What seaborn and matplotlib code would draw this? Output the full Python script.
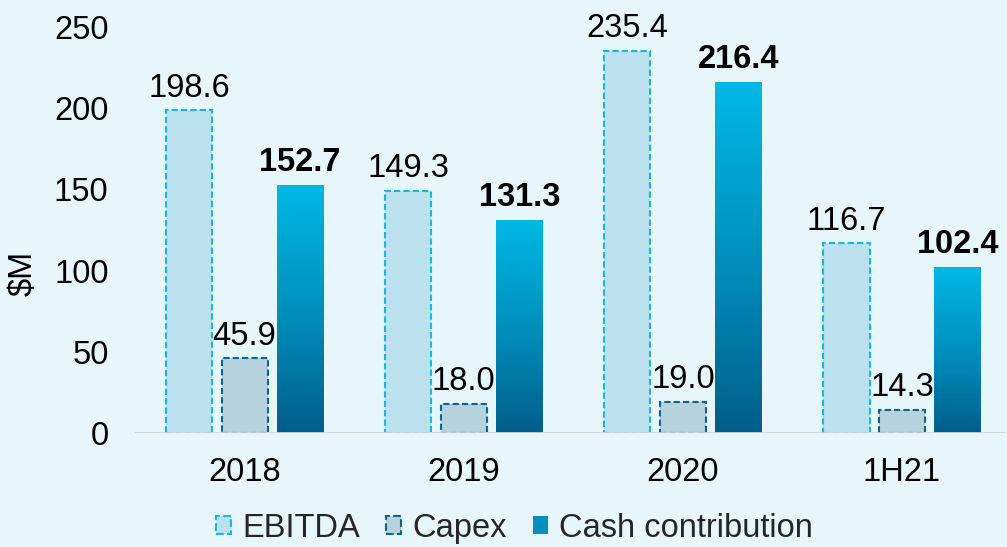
import numpy as np
import pandas as pd
import matplotlib
matplotlib.use("Agg")
import matplotlib.pyplot as plt
import seaborn as sns
from matplotlib.colors import LinearSegmentedColormap
from matplotlib.patches import Patch

# Data
periods = ["2018", "2019", "2020", "1H21"]
series = ["EBITDA", "Capex", "Cash contribution"]
ebitda = [198.6, 149.3, 235.4, 116.7]
capex = [45.9, 18.0, 19.0, 14.3]
cash = [152.7, 131.3, 216.4, 102.4]

df = pd.DataFrame({
    "period": periods * 3,
    "series": [s for s in series for _ in periods],
    "value": ebitda + capex + cash,
})

# Colours
BG = "#E7F6FB"
EB_FILL, EB_EDGE = "#BBE0EE", "#14B8E6"
CX_FILL, CX_EDGE = "#B6D2DE", "#10648C"
CASH_TOP, CASH_MID, CASH_BOT = "#00B8E4", "#0090BE", "#005E8A"
cash_cmap = LinearSegmentedColormap.from_list("cash", [CASH_BOT, CASH_MID, CASH_TOP])

sns.set_theme(style="white")
plt.rcParams["font.family"] = ["Liberation Sans", "DejaVu Sans"]
FS = 23.5

fig = plt.figure(figsize=(10.07, 5.47), dpi=100, facecolor=BG)
ax = fig.add_axes([135 / 1007, 1 - 433 / 547, (1005 - 135) / 1007, (433 - 27) / 547])
ax.set_facecolor(BG)

sns.barplot(data=df, x="period", y="value", hue="series", hue_order=series,
            palette=[EB_FILL, CX_FILL, CASH_TOP], saturation=1, errorbar=None,
            width=0.76, gap=0.17, legend=False, ax=ax)

for i, cont in enumerate(ax.containers):
    for bar in cont:
        x0, w, h = bar.get_x(), bar.get_width(), bar.get_height()
        if i == 0:
            bar.set_edgecolor(EB_EDGE)
            bar.set_linestyle((0, (3, 1.5)))
            bar.set_linewidth(1.5)
        elif i == 1:
            bar.set_edgecolor(CX_EDGE)
            bar.set_linestyle((0, (3, 1.5)))
            bar.set_linewidth(1.5)
        else:
            # cash bars get a vertical gradient fill
            bar.set_facecolor("none")
            bar.set_edgecolor("none")
            grad = np.linspace(0, 1, 256).reshape(-1, 1)
            im = ax.imshow(grad, extent=[x0, x0 + w, 0, h], origin="lower",
                           cmap=cash_cmap, aspect="auto", zorder=2)
            im.set_clip_path(bar)
        ax.annotate(f"{h:.1f}", (x0 + w / 2, h), xytext=(0, 5),
                    textcoords="offset points", ha="center", va="bottom",
                    fontsize=FS, color="black",
                    fontweight="bold" if i == 2 else "normal")

ax.set_xlim(-0.5, 3.47)
ax.set_ylim(0, 250)
ax.set_yticks([0, 50, 100, 150, 200, 250])
ax.axhline(0, color="#D2D2D2", lw=2, zorder=5)
sns.despine(ax=ax, left=True, bottom=True)

ax.tick_params(axis="y", length=0, labelsize=FS, pad=19, colors="black")
ax.tick_params(axis="x", length=0, labelsize=FS, pad=17, colors="black")
ax.set_xlabel("")
ax.set_ylabel("$M", fontsize=FS, color="black")
ax.yaxis.set_label_coords((39 - 135) / 870, (433 - 273) / 406)

handles = [
    Patch(facecolor=EB_FILL, edgecolor=EB_EDGE, linestyle="--", linewidth=1.5, label="EBITDA"),
    Patch(facecolor=CX_FILL, edgecolor=CX_EDGE, linestyle="--", linewidth=1.5, label="Capex"),
    Patch(facecolor=CASH_MID, edgecolor="none", label="Cash contribution"),
]
fig.legend(handles=handles, loc="lower center", bbox_to_anchor=(0.511, 0.006), ncol=3,
           frameon=False, fontsize=FS, handlelength=0.45, handleheight=0.5,
           handletextpad=0.35, columnspacing=0.8, borderpad=0, borderaxespad=0)

fig.savefig("out.png", dpi=100, facecolor=BG)
